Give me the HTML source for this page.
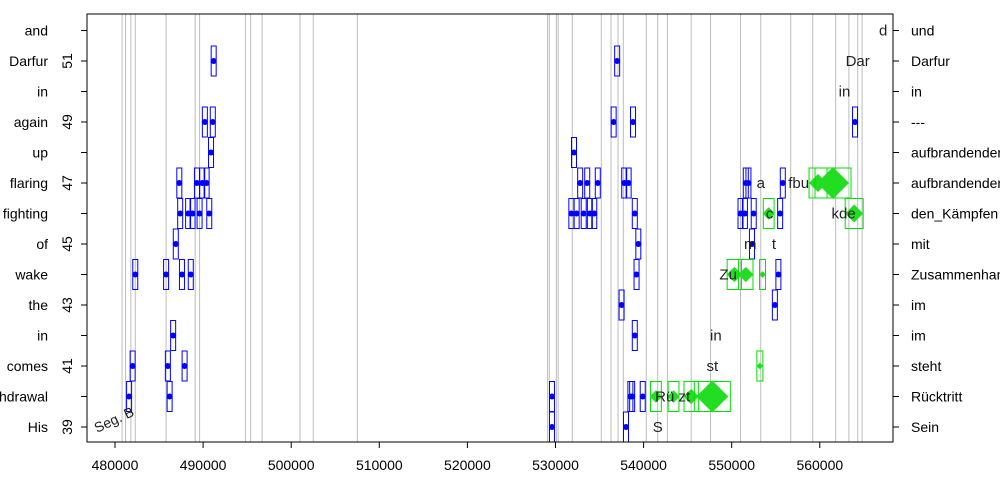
<!DOCTYPE html>
<html><head><meta charset="utf-8"><style>
body{margin:0;background:#fff;}
svg{display:block;font-family:"Liberation Sans",sans-serif;}
</style></head><body>
<svg id="chart" width="1000" height="500" viewBox="0 0 1000 500" xmlns="http://www.w3.org/2000/svg">
<g id="grid"></g>
<g id="marks"></g>
<g id="axes"></g>
</svg>
<script>
const leftWords=["His","withdrawal","comes","in","the","wake","of","fighting","flaring","up","again","in","Darfur","and"];
const rightWords=["Sein","Rücktritt","steht","im","im","Zusammenhang","mit","den_Kämpfen","aufbrandenden","aufbrandenden","---","in","Darfur","und"];
const xTicks=[480000,490000,500000,510000,520000,530000,540000,550000,560000];
const yTicks=[39,41,43,45,47,49,51];
// blue points: position value, row
const blueX=[481600,482000,482300,485800,486000,486200,486600,486900,487300,487400,487600,487900,488300,488600,488800,489600,490700,489300,489900,490400,490900,490200,491100,491200,
529600,529600,532100,531800,532400,533200,533900,534400,532800,533600,534800,536600,537000,537500,538000,538500,538800,537800,538300,539000,539400,539200,539000,538700,539900,
551600,551900,551000,551500,552500,552300,555300,554900,555500,555800,564000];
const blueY=[40,41,44,44,41,40,42,45,47,46,44,41,46,44,46,46,46,47,47,47,48,49,49,51,
40,39,48,46,46,46,46,46,47,47,47,49,51,43,39,40,49,47,47,46,45,44,42,40,40,
47,47,46,46,46,45,44,43,46,47,49];
const greenX=[541400,543400,545400,547800,550300,551600,553200,553500,554200,559800,561500,563900];
const greenY=[40,40,40,40,44,44,41,44,46,47,47,46];
const greenS=[3,3,4,10,4,4,1,1,3,5,10,5];
const lineX=[480800,481200,481800,482300,485800,489100,489600,494800,495400,496700,501000,502500,507500,529100,529300,530100,530300,531900,535200,536300,537100,537700,540300,541600,542700,545400,547600,551000,553300,556700,559200,561800,563300,564300,564800];
const labelTxt=["a","fbu","m","t","c","in","st","Rü zt","S","Zu","kde","Dar","in","d"];
const labelX=[553300,557600,552100,554800,554300,548200,547800,543300,541600,549600,562700,564300,562800,567200];
const labelY=[47,47,45,45,46,42,41,40,39,44,46,51,50,52];

const L=87,R=893,T=14,B=442;
const X=v=>115+(v-480000)*0.00881;
const Y=r=>427-(r-39)*30.5;
const NS="http://www.w3.org/2000/svg";
function mk(p,tag,a){const e=document.createElementNS(NS,tag);for(const k in a)e.setAttribute(k,a[k]);p.appendChild(e);return e;}
const grid=document.getElementById('grid'),marks=document.getElementById('marks'),axes=document.getElementById('axes');
lineX.forEach(v=>{const e=mk(grid,'line',{x1:X(v),x2:X(v),y1:T,y2:B,stroke:'#bdbdbd','stroke-width':1});

});
blueX.forEach((v,i)=>{const cx=X(v),cy=Y(blueY[i]);
const r=mk(marks,'rect',{x:cx-2.5,y:cy-15,width:5,height:30,fill:'none',stroke:'#0000ff','stroke-width':1});


const c=mk(marks,'circle',{cx:cx,cy:cy,r:3,fill:'#0000ff'});

});
greenX.forEach((v,i)=>{const cx=X(v),cy=Y(greenY[i]),s=greenS[i];
const w=Math.max(3,s*1.8);
const r=mk(marks,'rect',{x:cx-w,y:cy-15,width:w*2,height:30,fill:'none',stroke:'#00e000','stroke-width':1});


const d=s*1.4+2;
const p=mk(marks,'polygon',{points:`${cx},${cy-d} ${cx+d},${cy} ${cx},${cy+d} ${cx-d},${cy}`,fill:'#22dd22'});

});
labelTxt.forEach((t,i)=>{const e=mk(marks,'text',{x:X(labelX[i]),y:Y(labelY[i])+5,'font-size':15,fill:'#222','text-anchor':'middle'});e.textContent=t;

});
const sg=mk(marks,'text',{x:97,y:433,'font-size':14,fill:'#222',transform:'rotate(-25 97 433)'});sg.textContent='Seg. B';


mk(axes,'rect',{x:L,y:T,width:R-L,height:B-T,fill:'none',stroke:'#000','stroke-width':1});
xTicks.forEach(v=>{mk(axes,'line',{x1:X(v),x2:X(v),y1:B,y2:B+6,stroke:'#000'});
const t=mk(axes,'text',{x:X(v),y:470,'font-size':14,'text-anchor':'middle'});t.textContent=v;

});
leftWords.forEach((w,i)=>{const r=39+i,y=Y(r);
mk(axes,'line',{x1:L-6,x2:L,y1:y,y2:y,stroke:'#000'});
mk(axes,'line',{x1:R,x2:R+6,y1:y,y2:y,stroke:'#000'});
const a=mk(axes,'text',{x:48,y:y+5,'font-size':14,'text-anchor':'end'});a.textContent=w;


const b=mk(axes,'text',{x:911,y:y+5,'font-size':14});b.textContent=rightWords[i];

});
yTicks.forEach(r=>{const y=Y(r);const t=mk(axes,'text',{x:72,y:y,'font-size':14,'text-anchor':'middle',transform:`rotate(-90 72 ${y})`});t.textContent=r;

});
</script>
</body></html>
